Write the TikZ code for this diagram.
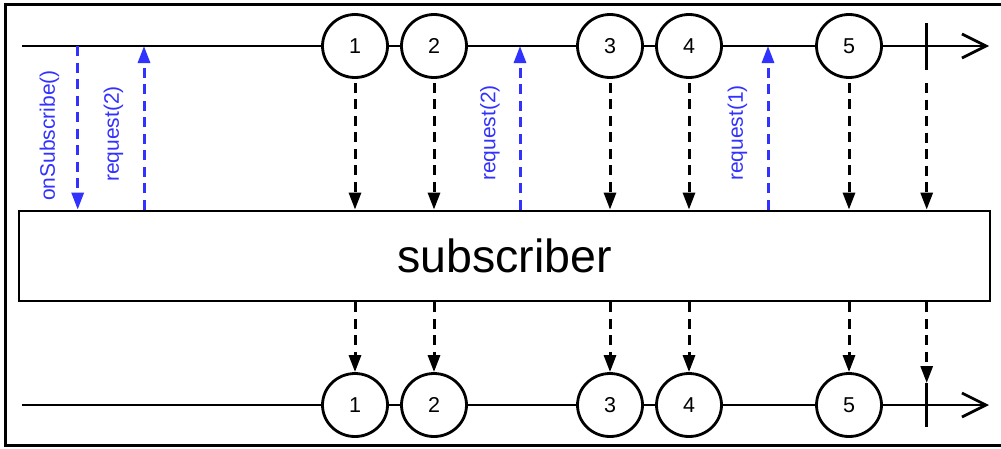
\documentclass[tikz,border=0pt]{standalone}
\usepackage{fontspec}
\setmainfont{Liberation Sans}
\usetikzlibrary{arrows.meta,shapes.geometric}
\definecolor{sigblue}{RGB}{50,50,255}
\tikzset{
  marble/.style={ellipse,draw=black,line width=2.8pt,fill=white,minimum width=65pt,minimum height=63pt,inner sep=0pt,font=\fontsize{21.5}{21.5}\selectfont},
  timeline/.style={line width=2.7pt,-{Straight Barb[length=24pt,width=24pt,line width=2.7pt]}},
  tick/.style={line width=2.7pt},
  flow/.style={line width=3pt,dash pattern=on 10pt off 6.5pt,-{Triangle[length=17pt,width=12pt]}},
  sigflow/.style={flow,draw=sigblue,-{Triangle[length=17pt,width=12pt,fill=sigblue]}},
  siglabel/.style={rotate=90,text=sigblue,inner sep=0pt,font=\fontsize{21}{21}\selectfont},
  subbox/.style={draw=black,line width=2.8pt,minimum width=971pt,minimum height=90pt,inner sep=0pt,font=\fontsize{46.5}{46.5}\selectfont}
}
\begin{document}
\begin{tikzpicture}[x=1pt,y=-1pt]
\useasboundingbox (0,0) rectangle (1001,448);
\fill[white] (0,0) rectangle (1001,448);
\draw[line width=3pt] (5.5,4.5) rectangle (1010,445.5);

% top timeline
\coordinate (ts) at (22,46);
\coordinate (te) at (989,46);
\draw[timeline] (ts) -- (te);
\coordinate (tk) at (926.7,46);
\draw[tick] (tk) ++(0,-23) -- ++(0,47);

% subscriber box
\node[subbox] (sub) at (504.5,256) {subscriber};

% top marbles
\node[marble] (a1) at (355,46) {1};
\node[marble] (a2) at (434,46) {2};
\node[marble] (a3) at (610,46) {3};
\node[marble] (a4) at (689,46) {4};
\node[marble] (a5) at (849,46) {5};

% bottom timeline
\coordinate (bs) at (22,405);
\coordinate (be) at (989,405);
\draw[timeline] (bs) -- (be);
\coordinate (bk) at (926.7,405);
\draw[tick] (bk) ++(0,-22) -- ++(0,44);
\coordinate (bktop) at (926.7,383);

\node[marble] (b1) at (355,405) {1};
\node[marble] (b2) at (434,405) {2};
\node[marble] (b3) at (610,405) {3};
\node[marble] (b4) at (689,405) {4};
\node[marble] (b5) at (849,405) {5};

% top -> subscriber
\foreach \n in {a1,a2,a3,a4,a5}
  \draw[flow,shorten <=4pt] (\n.south) -- (\n.south |- sub.north);
\coordinate (tkb) at (926.7,70);
\draw[flow,shorten <=13pt] (tkb) -- (tkb |- sub.north);

% subscriber -> bottom
\foreach \n in {b1,b2,b3,b4,b5}
  \draw[flow] (\n.north |- sub.south) -- (\n.north);
\draw[flow] (bktop |- sub.south) -- (bktop);

% blue signals
\coordinate (os) at (77.7,46);
\coordinate (r1) at (144,46);
\coordinate (r2) at (520,46);
\coordinate (r3) at (768,46);
\draw[sigflow] (os) -- (os |- sub.north);
\draw[sigflow] (r1 |- sub.north) -- (r1);
\draw[sigflow] (r2 |- sub.north) -- (r2);
\draw[sigflow] (r3 |- sub.north) -- (r3);

\node[siglabel] (los) at (49.5,135.5) {onSubscribe()};
\node[siglabel] (lr1) at (113.5,134) {request(2)};
\node[siglabel] (lr2) at (490,133) {request(2)};
\node[siglabel] (lr3) at (737.5,133) {request(1)};
\end{tikzpicture}
\end{document}
